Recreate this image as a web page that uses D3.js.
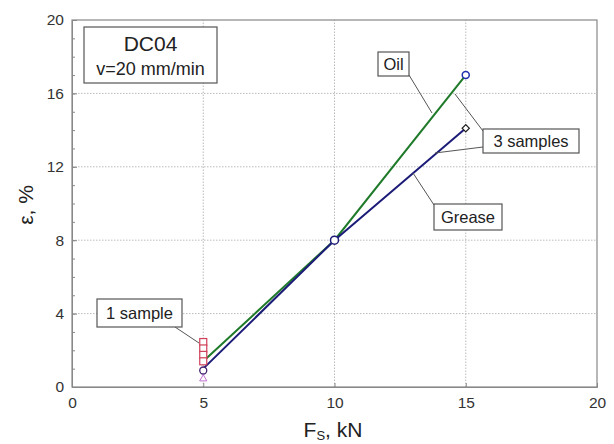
<!DOCTYPE html>
<html><head><meta charset="utf-8">
<script src="https://cdn.jsdelivr.net/npm/d3@7"></script>
<style>body{margin:0;background:#fff}svg{display:block;font-family:Arial,"Liberation Sans",sans-serif}</style>
</head><body><svg id="c" width="614" height="444"></svg>
<script>
const xTicks = [0, 5, 10, 15, 20];
const yTicks = [0, 4, 8, 12, 16, 20];
const oilX = [5, 10, 15];
const oilY = [1.4, 8, 17];
const greaseX = [5, 10, 15];
const greaseY = [1.0, 8, 14.1];
const sampleSquaresY = [2.45, 2.1, 1.75, 1.4];
const oneSampleCircle = [5, 0.9];
const oneSampleTriangle = [5, 0.5];

const svg = d3.select("#c");
const x = d3.scaleLinear().domain([0, 20]).range([72, 597]);
const y = d3.scaleLinear().domain([0, 20]).range([387, 20]);

// grid
const g = svg.append("g");
g.selectAll(".gx").data([5,10,15]).join("line")
  .attr("x1", d=>x(d)).attr("x2", d=>x(d)).attr("y1", y(0)).attr("y2", y(20))
  .attr("stroke", "#bbb").attr("stroke-dasharray", "1.5,1.5");
g.selectAll(".gy").data([4,8,12,16]).join("line")
  .attr("y1", d=>y(d)).attr("y2", d=>y(d)).attr("x1", x(0)).attr("x2", x(20))
  .attr("stroke", "#bbb").attr("stroke-dasharray", "1.5,1.5");

// frame
svg.append("rect").attr("x", x(0)).attr("y", y(20)).attr("width", x(20)-x(0)).attr("height", y(0)-y(20))
  .attr("fill", "none").attr("stroke", "#888").attr("stroke-width", 1.2);

// axes
svg.append("g").attr("transform", `translate(0,${y(0)})`)
  .call(d3.axisBottom(x).tickValues(xTicks).tickSize(-4).tickPadding(10).tickFormat(d3.format("d")));
svg.append("g").attr("transform", `translate(${x(0)},0)`)
  .call(d3.axisLeft(y).tickValues(yTicks).tickSize(-5).tickPadding(8).tickFormat(d3.format("d")));
svg.append("g").attr("transform", `translate(${x(0)},0)`)
  .call(d3.axisLeft(y).tickValues(d3.range(0,21,1)).tickSize(-3).tickFormat(""))
  .call(s=>s.select(".domain").remove());
svg.selectAll(".domain").attr("stroke", "#888");
svg.selectAll(".tick line").attr("stroke", "#888");
svg.selectAll(".tick text").attr("font-size", 15.5).attr("fill", "#333").attr("font-family", "Arial, 'Liberation Sans', sans-serif");

// axis titles
const xt = svg.append("text").attr("x", 333).attr("y", 437).attr("text-anchor", "middle")
  .attr("font-size", 21).attr("fill", "#222");
xt.append("tspan").text("F");
xt.append("tspan").text("S").attr("font-size", 13).attr("dy", 3);
xt.append("tspan").text(", kN").attr("dy", -3);
svg.append("text").attr("transform", "translate(33,205) rotate(-90)").attr("text-anchor", "middle")
  .attr("font-size", 21).attr("fill", "#222").text("ε, %");

// lines
const line = d3.line().x(d=>x(d[0])).y(d=>y(d[1]));
const oil = oilX.map((v,i)=>[v, oilY[i]]);
const grease = greaseX.map((v,i)=>[v, greaseY[i]]);
svg.append("path").datum(oil).attr("d", line).attr("fill","none").attr("stroke","#1f7a2a").attr("stroke-width",2);
svg.append("path").datum(grease).attr("d", line).attr("fill","none").attr("stroke","#1c1c78").attr("stroke-width",2);

// markers
svg.selectAll(".sq").data(sampleSquaresY).join("rect")
  .attr("x", x(5)-3.5).attr("y", d=>y(d)-3.5).attr("width",7).attr("height",7)
  .attr("fill","#fff").attr("stroke","#d0405a").attr("stroke-width",1.2);
svg.append("circle").attr("cx", x(oneSampleCircle[0])).attr("cy", y(oneSampleCircle[1])).attr("r",3.5)
  .attr("fill","#fff").attr("stroke","#402070").attr("stroke-width",1.3);
svg.append("path").attr("d", d3.symbol(d3.symbolTriangle, 22)())
  .attr("transform", `translate(${x(oneSampleTriangle[0])},${y(oneSampleTriangle[1])+1})`)
  .attr("fill","#fff").attr("stroke","#c070d0").attr("stroke-width",1);
svg.append("circle").attr("cx", x(10)).attr("cy", y(8)).attr("r",4)
  .attr("fill","#fff").attr("stroke","#1c1c78").attr("stroke-width",1.5);
svg.append("circle").attr("cx", x(oilX[2])).attr("cy", y(oilY[2])).attr("r",3.5)
  .attr("fill","#fff").attr("stroke","#2030b0").attr("stroke-width",1.5);
svg.append("path").attr("d", d3.symbol(d3.symbolSquare, 26)())
  .attr("transform", `translate(${x(greaseX[2])},${y(greaseY[2])}) rotate(45)`)
  .attr("fill","#fff").attr("stroke","#222").attr("stroke-width",1.2);

// leader lines
const leaders = [
  [[409,75],[432,113]],
  [[483,131],[455,94]],
  [[483,147],[435,153]],
  [[434,205],[413,173]],
  [[175,327],[199,343]]
];
leaders.forEach(l=>svg.append("line").attr("x1",l[0][0]).attr("y1",l[0][1]).attr("x2",l[1][0]).attr("y2",l[1][1])
  .attr("stroke","#555").attr("stroke-width",1));

// labels with boxes
function box(x0,y0,w,h,lines){
  svg.append("rect").attr("x",x0).attr("y",y0).attr("width",w).attr("height",h)
    .attr("fill","#fff").attr("stroke","#555").attr("stroke-width",1.2);
  lines.forEach(t=>svg.append("text").attr("x",x0+w/2).attr("y",y0+t.dy).attr("text-anchor","middle")
    .attr("font-size",t.fs).attr("fill","#222").text(t.text));
}
box(84,27,133,56,[{text:"DC04",dy:24,fs:21},{text:"v=20 mm/min",dy:48,fs:18}]);
box(378,52,31,24,[{text:"Oil",dy:18,fs:16.5}]);
box(483,129,96,24,[{text:"3 samples",dy:18,fs:16.5}]);
box(434,204,68,26,[{text:"Grease",dy:19,fs:16.5}]);
box(97,299,85,28,[{text:"1 sample",dy:20,fs:16.5}]);
</script></body></html>
